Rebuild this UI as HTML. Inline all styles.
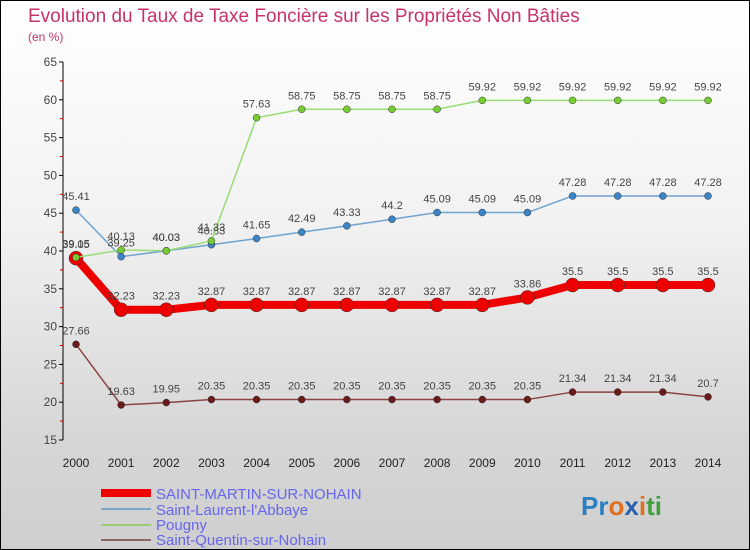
<!DOCTYPE html>
<html><head><meta charset="utf-8"><style>
body{margin:0}
#c{width:750px;height:550px;position:relative;overflow:hidden;box-sizing:border-box;border:1px solid #000;background:linear-gradient(#fff 0%,#f2f2f2 40%,#d6d6d6 80%,#cfcfcf 100%);font-family:"Liberation Sans",sans-serif}
text{font-family:"Liberation Sans",sans-serif}
</style></head><body>
<div id="c">
<svg id="s" width="750" height="550">
<text x="27" y="21" font-size="19" fill="#c8326a">Evolution du Taux de Taxe Foncière sur les Propriétés Non Bâties</text>
<text x="27" y="40" font-size="12" fill="#c8326a">(en %)</text>
<g id="axes"></g><g id="series"></g>
<g>
<line x1="100" y1="492" x2="150" y2="492" stroke="#e00" stroke-width="8"/>
<text x="155" y="498" font-size="15" fill="#6666ee">SAINT-MARTIN-SUR-NOHAIN</text>
<line x1="100" y1="508" x2="150" y2="508" stroke="#7aa9cc" stroke-width="2"/>
<text x="155" y="514" font-size="15" fill="#6666ee">Saint-Laurent-l'Abbaye</text>
<line x1="100" y1="524" x2="150" y2="524" stroke="#99cc77" stroke-width="2"/>
<text x="155" y="529" font-size="15" fill="#6666ee">Pougny</text>
<line x1="100" y1="539" x2="150" y2="539" stroke="#8c6666" stroke-width="2"/>
<text x="155" y="544" font-size="15" fill="#6666ee">Saint-Quentin-sur-Nohain</text>
</g>
<text x="580" y="514" font-size="26" font-weight="bold"><tspan fill="#2a7fc0">Pr</tspan><tspan fill="#e07020">o</tspan><tspan fill="#2a60b0">x</tspan><tspan fill="#e07020">i</tspan><tspan fill="#40a040">ti</tspan></text>
</svg></div>
<script>
const years=[2000,2001,2002,2003,2004,2005,2006,2007,2008,2009,2010,2011,2012,2013,2014];
const yTicks=[15,20,25,30,35,40,45,50,55,60,65];
const smsn=[39.05,32.23,32.23,32.87,32.87,32.87,32.87,32.87,32.87,32.87,33.86,35.5,35.5,35.5,35.5];
const laurent=[45.41,39.25,40.03,40.83,41.65,42.49,43.33,44.2,45.09,45.09,45.09,47.28,47.28,47.28,47.28];
const pougny=[39.15,40.13,40.03,41.33,57.63,58.75,58.75,58.75,58.75,59.92,59.92,59.92,59.92,59.92,59.92];
const quentin=[27.66,19.63,19.95,20.35,20.35,20.35,20.35,20.35,20.35,20.35,20.35,21.34,21.34,21.34,20.7];
const NS="http://www.w3.org/2000/svg";
const X=i=>75+i*(707-75)/14;
const Y=v=>61+(65-v)*(439-61)/50;
function mk(t,a,p){const e=document.createElementNS(NS,t);for(const k in a)e.setAttribute(k,a[k]);p.appendChild(e);return e;}
const ax=document.getElementById('axes');
const yl=mk('line',{x1:62,y1:Y(65),x2:62,y2:Y(15),stroke:'#000'},ax);


yTicks.forEach(v=>{
 mk('line',{x1:58,y1:Y(v),x2:62,y2:Y(v),stroke:'#000'},ax);
 if(v<65)mk('line',{x1:59,y1:Y(v+2.5),x2:62,y2:Y(v+2.5),stroke:'#c00'},ax);
 const t=mk('text',{x:56,y:Y(v)+4,'font-size':12,fill:'#444','text-anchor':'end'},ax);t.textContent=v;
 
 
});
years.forEach((yr,i)=>{
 const t=mk('text',{x:X(i),y:466,'font-size':12,fill:'#222','text-anchor':'middle'},ax);t.textContent=yr;
 
 
});
const sg=document.getElementById('series');
function draw(data,name,color,w,r,dot){
 const g=mk('g',{},sg);
 
 
 mk('polyline',{points:data.map((v,i)=>X(i)+','+Y(v)).join(' '),fill:'none',stroke:color,'stroke-width':w,'stroke-linejoin':'round'},g);
 data.forEach((v,i)=>{
  const c=mk('circle',{cx:X(i),cy:Y(v),r:r,fill:dot,stroke:'#333','stroke-width':0.5},g);
  
  
  const t=mk('text',{x:X(i),y:Y(v)-10,'font-size':11,fill:'#444','text-anchor':'middle'},g);
  t.textContent=String(v);
  
  
 });
}
draw(quentin,'saint-quentin-series','#8c4444',1.5,3.5,'#6b1a1a');
draw(smsn,'saint-martin-series','#e00',8,7,'#e00');
draw(laurent,'saint-laurent-series','#6fa3d0',1.5,3.5,'#3a85c8');
draw(pougny,'pougny-series','#99dd77',1.5,3.5,'#77cc33');
</script>
</body></html>
